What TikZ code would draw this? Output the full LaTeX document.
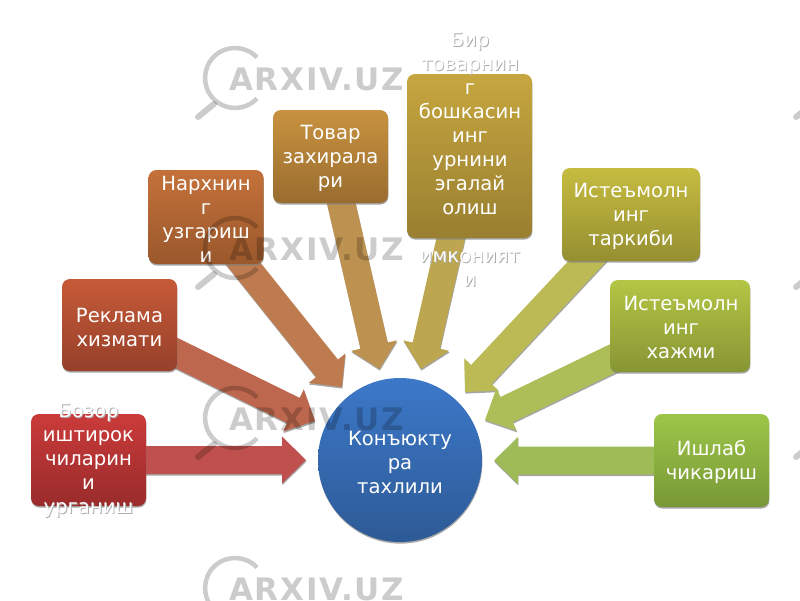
\documentclass[tikz,border=0pt]{standalone}
\usepackage{fontspec}
\setmainfont{DejaVu Sans}
\newfontfamily\markfont[LetterSpace=5.5]{DejaVu Sans}
\usetikzlibrary{calc,shadows,backgrounds}
\definecolor{redtop}{HTML}{CA3B3A}\definecolor{redbot}{HTML}{9A2B2B}\definecolor{redarr}{HTML}{C0504D}
\definecolor{rusttop}{HTML}{C65A38}\definecolor{rustbot}{HTML}{96402A}\definecolor{rustarr}{HTML}{BD674E}
\definecolor{orngtop}{HTML}{C4713A}\definecolor{orngbot}{HTML}{9A582C}\definecolor{orngarr}{HTML}{BE7B4F}
\definecolor{ochrtop}{HTML}{C8923F}\definecolor{ochrbot}{HTML}{996C2F}\definecolor{ochrarr}{HTML}{BD914F}
\definecolor{goldtop}{HTML}{C6A63F}\definecolor{goldbot}{HTML}{997F30}\definecolor{goldarr}{HTML}{BCA650}
\definecolor{olivtop}{HTML}{C5BC40}\definecolor{olivbot}{HTML}{958F31}\definecolor{olivarr}{HTML}{BCBA55}
\definecolor{limetop}{HTML}{B3C644}\definecolor{limebot}{HTML}{879534}\definecolor{limearr}{HTML}{ADBD58}
\definecolor{grentop}{HTML}{9DC648}\definecolor{grenbot}{HTML}{789836}\definecolor{grenarr}{HTML}{9FBB58}
\definecolor{bluetop}{HTML}{3C78C8}\definecolor{bluebot}{HTML}{2D5A96}
\tikzset{
	softshadow/.style={drop shadow={shadow xshift=0.4pt,shadow yshift=-1.6pt,fill=black!50,opacity=0.7}},
	topicbox/.style n args={4}{rectangle,rounded corners=8pt,minimum width=#1,minimum height=#2,inner sep=0pt,top color=#3,bottom color=#4,softshadow},
	topictext/.style={text=white,align=center,inner sep=0pt,font=\fontsize{19.6}{24}\selectfont},
}
% white line that leaves its box: only the grey edge shows there
\newcommand{\ovr}[1]{\leavevmode\rlap{\kern0.9pt\raisebox{-1.2pt}{\textcolor{black!32}{#1}}}#1}
\def\blockarrow[#1](#2)(#3){
	\coordinate (hb) at ($(#3)!24pt!(#2.center)$);
	\fill[#1,softshadow] ($(#2.center)!14pt!-90:(#3)$) -- ($(hb)!14pt!-90:(#3)$) -- ($(hb)!23.5pt!-90:(#3)$) -- (#3) -- ($(hb)!23.5pt!90:(#3)$) -- ($(hb)!14pt!90:(#3)$) -- ($(#2.center)!14pt!90:(#3)$) -- cycle;
}
\begin{document}
\begin{tikzpicture}[x=1pt,y=-1pt]
			\useasboundingbox (0,0) rectangle (800,600);
			
			%%%%% BOXES %%%%%
			
			\node[topicbox={115pt}{92pt}{redtop}{redbot}] (bozor) at (88.5,460) {};
			\node[topicbox={115pt}{92pt}{rusttop}{rustbot}] (reklama) at (119.5,325) {};
			\node[topicbox={115pt}{94pt}{orngtop}{orngbot}] (narkh) at (206,217) {};
			\node[topicbox={115pt}{93pt}{ochrtop}{ochrbot}] (tovar) at (330.5,156.5) {};
			\node[topicbox={125pt}{164pt}{goldtop}{goldbot}] (urin) at (469.5,156) {};
			\node[topicbox={138pt}{93pt}{olivtop}{olivbot}] (tarkib) at (631,214.5) {};
			\node[topicbox={140pt}{92pt}{limetop}{limebot}] (hajm) at (680,326) {};
			\node[topicbox={115pt}{93pt}{grentop}{grenbot}] (ishlab) at (711.5,460.5) {};
			\node[circle,minimum size=164pt,inner sep=0pt,top color=bluetop,bottom color=bluebot,softshadow] (tahlil) at (400,460) {};
			
			%%%%% ARROWS %%%%%
			
			\coordinate (tipbozor) at (306,460);
			\coordinate (tipreklama) at (315,421);
			\coordinate (tipnarkh) at (342,387);
			\coordinate (tiptovar) at (379.5,369);
			\coordinate (tipurin) at (421,369);
			\coordinate (tiptarkib) at (465,392);
			\coordinate (tiphajm) at (485,420);
			\coordinate (tipishlab) at (494,460.5);
			\begin{pgfonlayer}{background}
				\blockarrow[fill=redarr](bozor)(tipbozor)
				\blockarrow[fill=rustarr](reklama)(tipreklama)
				\blockarrow[fill=orngarr](narkh)(tipnarkh)
				\blockarrow[fill=ochrarr](tovar)(tiptovar)
				\blockarrow[fill=goldarr](urin)(tipurin)
				\blockarrow[fill=olivarr](tarkib)(tiptarkib)
				\blockarrow[fill=limearr](hajm)(tiphajm)
				\blockarrow[fill=grenarr](ishlab)(tipishlab)
			\end{pgfonlayer}
			
			%%%%% TEXTS %%%%%
			
			\node[topictext] (bozortext) at (88.5,461) {\ovr{Бозор}\\иштирок\\чиларин\\и\\\ovr{урганиш}};
			\node[topictext] (reklamatext) at (119.5,327) {Реклама\\ хизмати};
			\node[topictext] (narkhtext) at (206,219) {Нархнин\\г\\узгариш\\и};
			\node[topictext] (tovartext) at (330.5,158) {Товар\\захирала\\ри};
			\node[topictext] (urintext) at (470,160) {\ovr{Бир}\\\ovr{товарнин}\\г\\бошкасин\\инг\\урнини\\эгалай\\олиш\\[24pt]\ovr{имконият}\\\ovr{и}};
			\node[topictext] (tarkibtext) at (631,216) {Истеъмолн\\инг\\таркиби};
			\node[topictext] (hajmtext) at (681,327) {Истеъмолн\\инг\\хажми};
			\node[topictext] (ishlabtext) at (711.5,462) {Ишлаб\\чикариш};
			\node[topictext] (tahliltext) at (400,462) {Конъюкту\\ра\\тахлили};
			
			%%%%% WATERMARK %%%%%
			
			\begin{scope}[opacity=0.2]
				\foreach \wy in {0,170,340,510}{
					\draw[line width=4.5pt] (257,\wy+57.5) arc[start angle=-43,end angle=-317,radius=30];
					\draw[line width=6pt,line cap=round] (214,\wy+104) -- (198,\wy+117);
					\node[inner sep=0pt,font=\markfont\bfseries\fontsize{31}{31}\selectfont,anchor=base west] (mark\wy) at (229,\wy+90) {ARXIV.UZ};
				}
				\foreach \wy in {0,170,340}{
					\draw[line width=6pt,line cap=round] (812,\wy+104) -- (796,\wy+117);
				}
			\end{scope}
			
		\end{tikzpicture}
\end{document}
